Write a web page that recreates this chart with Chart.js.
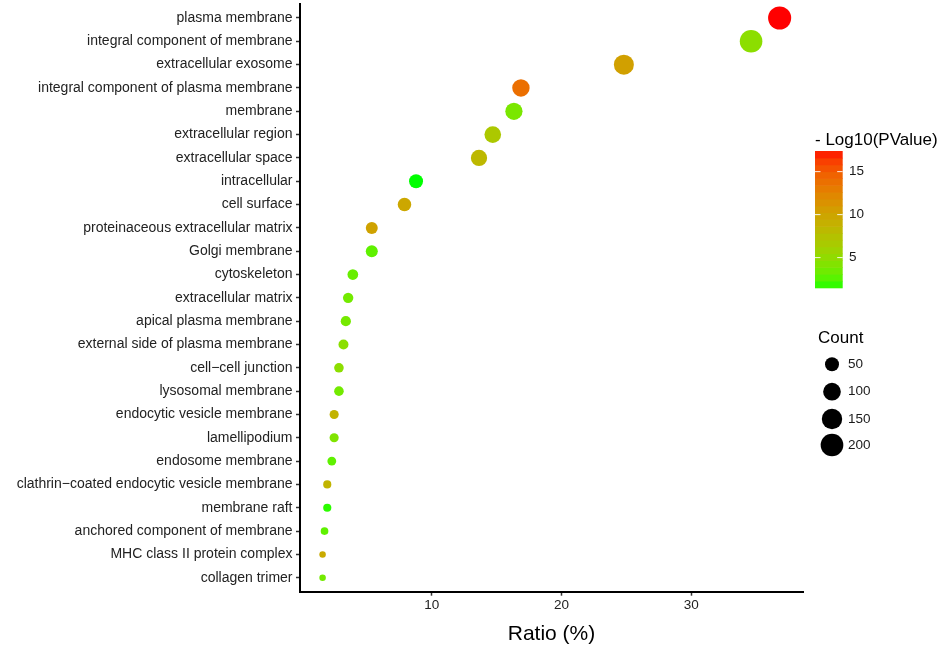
<!DOCTYPE html>
<html><head><meta charset="utf-8">
<script src="https://cdn.jsdelivr.net/npm/chart.js@4"></script>
<style>html,body{margin:0;padding:0;background:#fff;overflow:hidden}</style>
</head><body>
<canvas id="c" width="942" height="651"></canvas>
<script>
// ---- data ----
const categories = [
  'plasma membrane','integral component of membrane','extracellular exosome',
  'integral component of plasma membrane','membrane','extracellular region',
  'extracellular space','intracellular','cell surface',
  'proteinaceous extracellular matrix','Golgi membrane','cytoskeleton',
  'extracellular matrix','apical plasma membrane','external side of plasma membrane',
  'cell\u2212cell junction','lysosomal membrane','endocytic vesicle membrane',
  'lamellipodium','endosome membrane','clathrin\u2212coated endocytic vesicle membrane',
  'membrane raft','anchored component of membrane','MHC class II protein complex',
  'collagen trimer'
];
const ratios = [36.8,34.6,24.8,16.87,16.33,14.7,13.64,8.79,7.9,5.38,5.38,3.92,3.56,3.38,3.2,2.85,2.85,2.48,2.48,2.3,1.95,1.95,1.74,1.59,1.59];
const counts = [210,198,142,96,93,84,78,50,45,31,31,22,20,19,18,16,16,14,14,13,11,11,10,9,9];
const logP = [17.4,4.8,10.4,13.9,3.9,6.9,8.3,1.5,9.8,10.2,2.9,3.2,3.6,3.7,4.7,4.8,3.6,8.8,4.2,2.9,8.7,1.8,2.9,9.5,3.6];
const xTicks = [10,20,30];
const colorTicks = [5,10,15];
const sizeBreaks = [50,100,150,200];
const xTitle = 'Ratio (%)';
const colorTitle = '- Log10(PValue)';
const sizeTitle = 'Count';

// ---- style helpers ----
const FONT = "'Liberation Sans', Arial, sans-serif";
const cMin = Math.min(...logP), cMax = Math.max(...logP);
const nMin = Math.min(...counts), nMax = Math.max(...counts);

function s2l(c){c/=255;return c<=0.04045?c/12.92:Math.pow((c+0.055)/1.055,2.4);}
function l2s(c){c=c<=0.0031308?12.92*c:1.055*Math.pow(c,1/2.4)-0.055;return Math.round(Math.max(0,Math.min(1,c))*255);}
function rgb2lab(rgb){
  const R=s2l(rgb[0]),G=s2l(rgb[1]),B=s2l(rgb[2]);
  const X=(0.4124*R+0.3576*G+0.1805*B)/0.95047,Y=0.2126*R+0.7152*G+0.0722*B,Z=(0.0193*R+0.1192*G+0.9505*B)/1.08883;
  const f=t=>t>0.008856?Math.cbrt(t):(7.787*t+16/116);
  const fx=f(X),fy=f(Y),fz=f(Z);
  return [116*fy-16,500*(fx-fy),200*(fy-fz)];
}
function lab2rgb(lab){
  const fy=(lab[0]+16)/116,fx=fy+lab[1]/500,fz=fy-lab[2]/200;
  const fi=t=>t>0.206893?t*t*t:(t-16/116)/7.787;
  const X=fi(fx)*0.95047,Y=fi(fy),Z=fi(fz)*1.08883;
  const R=3.2406*X-1.5372*Y-0.4986*Z,G=-0.9689*X+1.8758*Y+0.0415*Z,B=0.0557*X-0.2040*Y+1.0570*Z;
  return 'rgb('+l2s(R)+','+l2s(G)+','+l2s(B)+')';
}
const labLow = rgb2lab([0,255,0]), labHigh = rgb2lab([255,0,0]);
function colorFor(v){
  const t=Math.max(0,Math.min(1,(v-cMin)/(cMax-cMin)));
  return lab2rgb([0,1,2].map(k=>labLow[k]+(labHigh[k]-labLow[k])*t));
}
function radiusFor(n){
  const s=Math.sqrt(Math.max(0,(n-nMin)/(nMax-nMin)));
  return (6.5+16.6*s)/2;
}

// ---- legend plugin ----
const legendPlugin = {
  id:'ggLegend',
  afterDraw(chart){
    const ctx=chart.ctx;
    ctx.save();
    ctx.fillStyle='#000';
    ctx.font='17px '+FONT;
    ctx.textAlign='left';ctx.textBaseline='middle';
    ctx.fillText(colorTitle,815,140);
    const bx=815,bw=27.7,bt=151,bb=287.7,nb=20;
    const bh=(bb-bt)/nb;
    for(let i=0;i<nb;i++){
      const v=cMin+(cMax-cMin)*(i+0.5)/nb;
      ctx.fillStyle=colorFor(v);
      ctx.fillRect(bx,bb-(i+1)*bh,bw,bh+0.6);
    }
    ctx.strokeStyle='rgba(255,255,255,0.9)';ctx.lineWidth=1;
    ctx.font='13.5px '+FONT;
    colorTicks.forEach(t=>{
      const y=bb-(t-cMin)/(cMax-cMin)*(bb-bt);
      ctx.beginPath();
      ctx.moveTo(bx,y);ctx.lineTo(bx+5.5,y);
      ctx.moveTo(bx+bw-5.5,y);ctx.lineTo(bx+bw,y);
      ctx.stroke();
      ctx.fillStyle='#1a1a1a';
      ctx.fillText(String(t),849,y);
    });
    ctx.fillStyle='#000';
    ctx.font='17px '+FONT;
    ctx.fillText(sizeTitle,818,338);
    const ys=[364.3,391.7,419,445];
    ctx.font='13.5px '+FONT;
    sizeBreaks.forEach((b,i)=>{
      ctx.fillStyle='#000';
      ctx.beginPath();ctx.arc(832,ys[i],radiusFor(b),0,Math.PI*2);ctx.fill();
      ctx.fillStyle='#1a1a1a';
      ctx.fillText(String(b),848,ys[i]);
    });
    ctx.restore();
  }
};

new Chart(document.getElementById('c'),{
  type:'scatter',
  data:{datasets:[{
    data:categories.map((c,i)=>({x:ratios[i],y:i})),
    pointBackgroundColor:logP.map(colorFor),
    pointBorderWidth:0,
    pointRadius:counts.map(radiusFor),
    pointHoverRadius:counts.map(radiusFor),
    clip:false
  }]},
  options:{
    responsive:false,animation:false,
    layout:{autoPadding:false,padding:{left:0,top:4,right:139,bottom:0}},
    plugins:{legend:{display:false},tooltip:{enabled:false}},
    scales:{
      x:{
        type:'linear',min:-0.15,max:38.6,
        afterBuildTicks(s){s.ticks=xTicks.map(v=>({value:v}));},
        afterFit(s){s.height=59.3;},
        grid:{drawOnChartArea:false,drawTicks:true,tickLength:4,tickColor:'#333',tickWidth:1.5},
        border:{display:true,color:'#000',width:2},
        ticks:{font:{family:FONT,size:13.5},color:'#222',padding:1,maxRotation:0},
        title:{display:true,text:xTitle,font:{family:FONT,size:21},color:'#000',padding:{top:0,bottom:4}}
      },
      y:{
        type:'linear',reverse:true,min:-0.6,max:categories.length-0.4,
        afterBuildTicks(s){s.ticks=categories.map((c,i)=>({value:i}));},
        afterFit(s){s.width=300;},
        grid:{drawOnChartArea:false,drawTicks:true,tickLength:4,tickColor:'#333',tickWidth:1.5},
        border:{display:true,color:'#000',width:2},
        ticks:{font:{family:FONT,size:14,lineHeight:0.01},color:'#222',padding:3.5,autoSkip:false,
          callback:(v)=>categories[v]}
      }
    }
  },
  plugins:[legendPlugin]
});
</script>
</body></html>
